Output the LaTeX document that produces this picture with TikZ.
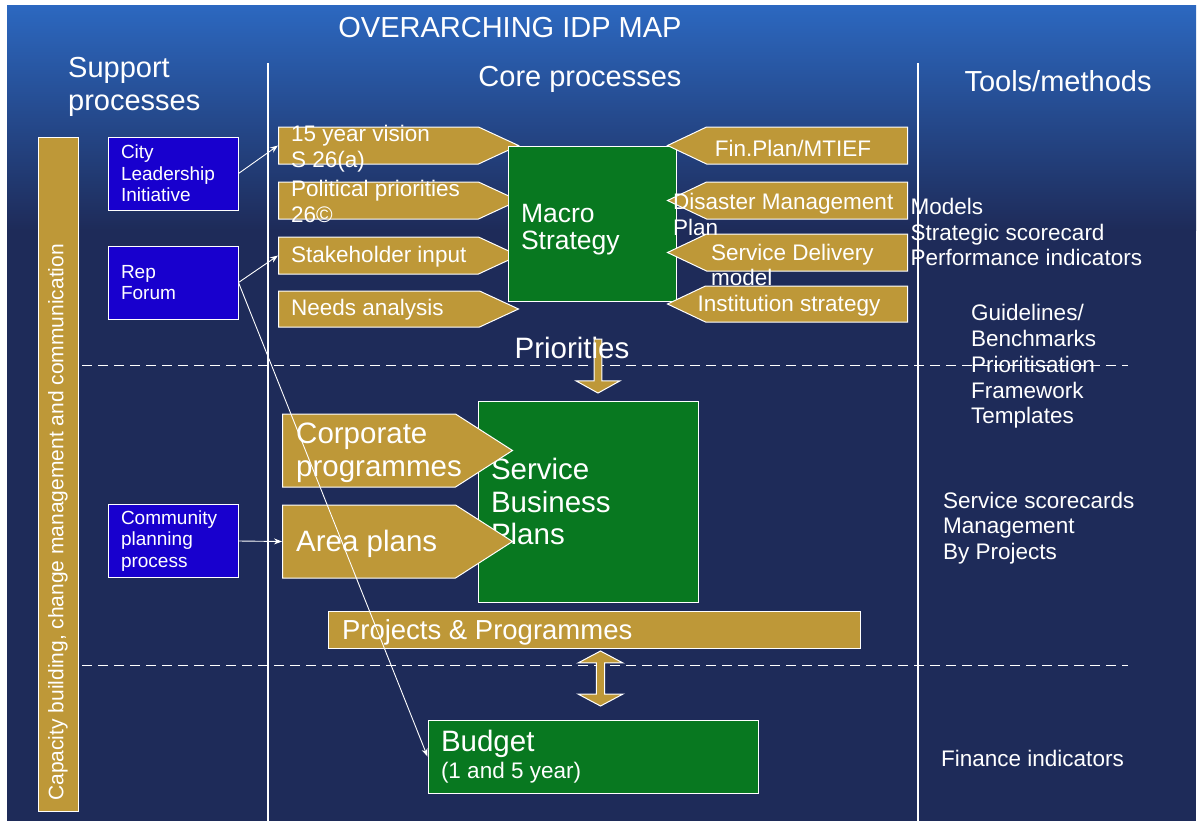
\documentclass[tikz,border=0pt]{standalone}
\usepackage{fontspec}
\setmainfont{Liberation Sans}
\usetikzlibrary{positioning,shapes.symbols,shapes.arrows,arrows.meta}

\definecolor{navy}{RGB}{30,43,89}
\definecolor{skyblue}{RGB}{44,104,192}
\definecolor{idpgold}{RGB}{190,152,56}
\definecolor{idpgreen}{RGB}{8,120,32}
\definecolor{idpblue}{RGB}{24,0,206}

\newcommand{\fhead}{\fontsize{29}{33}\selectfont}
\newcommand{\fbig}{\fontsize{29.5}{32.5}\selectfont}
\newcommand{\fmacro}{\fontsize{26.5}{27.5}\selectfont}
\newcommand{\fmid}{\fontsize{22.5}{25.5}\selectfont}
\newcommand{\fsmall}{\fontsize{19}{21.5}\selectfont}
\newcommand{\fbar}{\fontsize{21}{24}\selectfont}

\tikzset{
  lbl/.style={text=white, inner sep=0pt, align=flush left, anchor=west},
  head/.style={text=white, inner sep=0pt, font=\fhead},
  sepline/.style={draw=white, line width=1.2pt},
  goldR/.style={signal, signal to=east, fill=idpgold, draw=white, line width=1pt, inner sep=0pt, anchor=west},
  goldL/.style={signal, signal to=west, fill=idpgold, draw=white, line width=1pt, inner sep=0pt, anchor=east},
  greenbox/.style={rectangle, fill=idpgreen, draw=white, line width=1pt, text=white, align=flush left, inner xsep=13pt, inner ysep=0pt},
  supportbox/.style={rectangle, fill=idpblue, draw=white, line width=1pt, text=white, align=flush left, font=\fsmall, inner xsep=13pt, inner ysep=0pt, minimum height=73pt, text width=104pt},
  conn/.style={draw=white, line width=0.9pt, -{Stealth[length=8pt,width=6pt]}}
}

\begin{document}
\begin{tikzpicture}[x=1pt,y=-1pt]
\useasboundingbox (0,0) rectangle (1202,825);
\fill[white] (0,0) rectangle (1202,825);
\shade[top color=skyblue, bottom color=navy] (7,5) rectangle (1196,230);
\fill[navy] (7,229) rectangle (1196,821);

% separators
\draw[sepline] (268,63) -- (268,821);
\draw[sepline] (918,63) -- (918,821);
\draw[sepline, line width=1pt, dash pattern=on 10pt off 6pt] (82,365) -- (1128,365);
\draw[sepline, line width=1pt, dash pattern=on 10pt off 6pt] (82,665) -- (1128,665);

% headings
\node[head] (title) at (510,28) {OVERARCHING IDP MAP};
\node[head, anchor=west, align=flush left] (support) at (68,87) {Support\\processes};
\node[head] (core) at (580,79) {Core processes};
\node[head] (tools) at (1058,81) {Tools/methods};

% support processes
\node[rectangle, fill=idpgold, draw=white, line width=1pt, minimum width=40pt, minimum height=674pt] (capacity) at (58,474) {};
\node[lbl, font=\fbar, rotate=90] (capacitytxt) at (58,801) {Capacity building, change management and communication};
\node[supportbox] (city) at (173,173.5) {City\\Leadership\\Initiative};
\node[supportbox] (rep) at (173,282.5) {Rep\\Forum};
\node[supportbox] (community) at (173,541) {Community\\planning\\process};

% macro strategy inputs
\node[goldR, minimum width=240pt, minimum height=37pt, signal pointer angle=49.6] (vision) at (278,145.5) {};
\node[goldR, minimum width=240pt, minimum height=37pt, signal pointer angle=49.6] (political) at (278,200.5) {};
\node[goldR, minimum width=240pt, minimum height=37pt, signal pointer angle=49.6] (stake) at (278,255.5) {};
\node[goldR, minimum width=240pt, minimum height=36pt, signal pointer angle=49.6] (needs) at (278,309) {};
\node[lbl, font=\fmid] (visiontxt) at (291,148.5) {15 year vision\\S 26(a)};
\node[lbl, font=\fmid] (politicaltxt) at (291,201.5) {Political priorities\\26©};
\node[lbl, font=\fmid] (staketxt) at (291,256.5) {Stakeholder input};
\node[lbl, font=\fmid] (needstxt) at (291,310) {Needs analysis};

\node[greenbox, font=\fmacro, text width=142pt, minimum height=155pt] (macro) at (592,223.5) {\rule{0pt}{30pt}Macro\\Strategy};

\node[goldL, minimum width=240pt, minimum height=37pt, signal pointer angle=50.7] (finplan) at (908,145.5) {};
\node[goldL, minimum width=240pt, minimum height=37pt, signal pointer angle=50.7] (disaster) at (908,200.5) {};
\node[goldL, minimum width=240pt, minimum height=37pt, signal pointer angle=50.7] (delivery) at (908,252.5) {};
\node[goldL, minimum width=240pt, minimum height=36pt, signal pointer angle=50.7] (institution) at (908,304) {};
\node[text=white, inner sep=0pt, font=\fmid] (finplantxt) at (793,148) {Fin.Plan/MTIEF};
\node[lbl, font=\fmid] (disastertxt) at (673,214.5) {Disaster Management\\Plan};
\node[lbl, font=\fmid] (deliverytxt) at (711,265) {Service Delivery\\model};
\node[lbl, font=\fmid] (institutiontxt) at (697.5,305.5) {Institution strategy};

% priorities
\node[single arrow, shape border rotate=270, fill=idpgold, draw=white, line width=1pt, minimum height=54pt, minimum width=44pt, single arrow head extend=12pt, single arrow tip angle=122, inner xsep=2pt, inner ysep=10pt] (prioarrow) at (598,365) {};
\node[text=white, inner sep=0pt, font=\fbig] (priorities) at (572,348) {Priorities};

% service business plans
\node[greenbox, font=\fbig, text width=194pt, minimum height=201pt] (sbp) at (588,501.5) {Service\\Business\\Plans};
\node[goldR, minimum width=230pt, minimum height=73pt, signal pointer angle=65.3] (corporate) at (282,450.5) {};
\node[goldR, minimum width=230pt, minimum height=73pt, signal pointer angle=65.3] (area) at (282,541.5) {};
\node[lbl, font=\fbig] (corporatetxt) at (296,453) {Corporate\\programmes};
\node[lbl, font=\fbig] (areatxt) at (296,544) {Area plans};

\node[rectangle, fill=idpgold, draw=white, line width=1pt, text=white, font=\fontsize{27.5}{30}\selectfont, inner xsep=14pt, inner ysep=0pt, minimum height=37pt, text width=504pt, align=flush left] (projects) at (594,629.5) {\rule{0pt}{26pt}Projects \& Programmes};

% budget
\node[double arrow, shape border rotate=90, fill=idpgold, draw=white, line width=1pt, minimum height=55pt, minimum width=45pt, double arrow head extend=11.5pt, double arrow tip angle=124, inner xsep=2pt, inner ysep=11pt] (ppbudget) at (600.5,678.5) {};
\node[greenbox, font=\fbig, text width=304pt, minimum height=73pt] (budget) at (593,756.5) {Budget\\[-5pt]\fmid (1 and 5 year)};

% tools / methods
\node[lbl, font=\fmid] (modelstxt) at (910.5,232) {Models\\Strategic scorecard\\Performance indicators};
\node[lbl, font=\fontsize{22.5}{25.7}\selectfont] (guidetxt) at (971,366.5) {Guidelines/\\Benchmarks\\Prioritisation\\Framework\\Templates};
\node[lbl, font=\fmid] (scoretxt) at (943,528) {Service scorecards\\Management\\By Projects};
\node[lbl, font=\fmid] (financetxt) at (941,758) {Finance indicators};

% connectors
\draw[conn] (city.east) -- (vision.west);
\draw[conn] (rep.east) -- (stake.west);
\draw[conn] (community.east) -- (area.west);
\draw[conn] (rep.east) -- (budget.west);
\end{tikzpicture}
\end{document}
